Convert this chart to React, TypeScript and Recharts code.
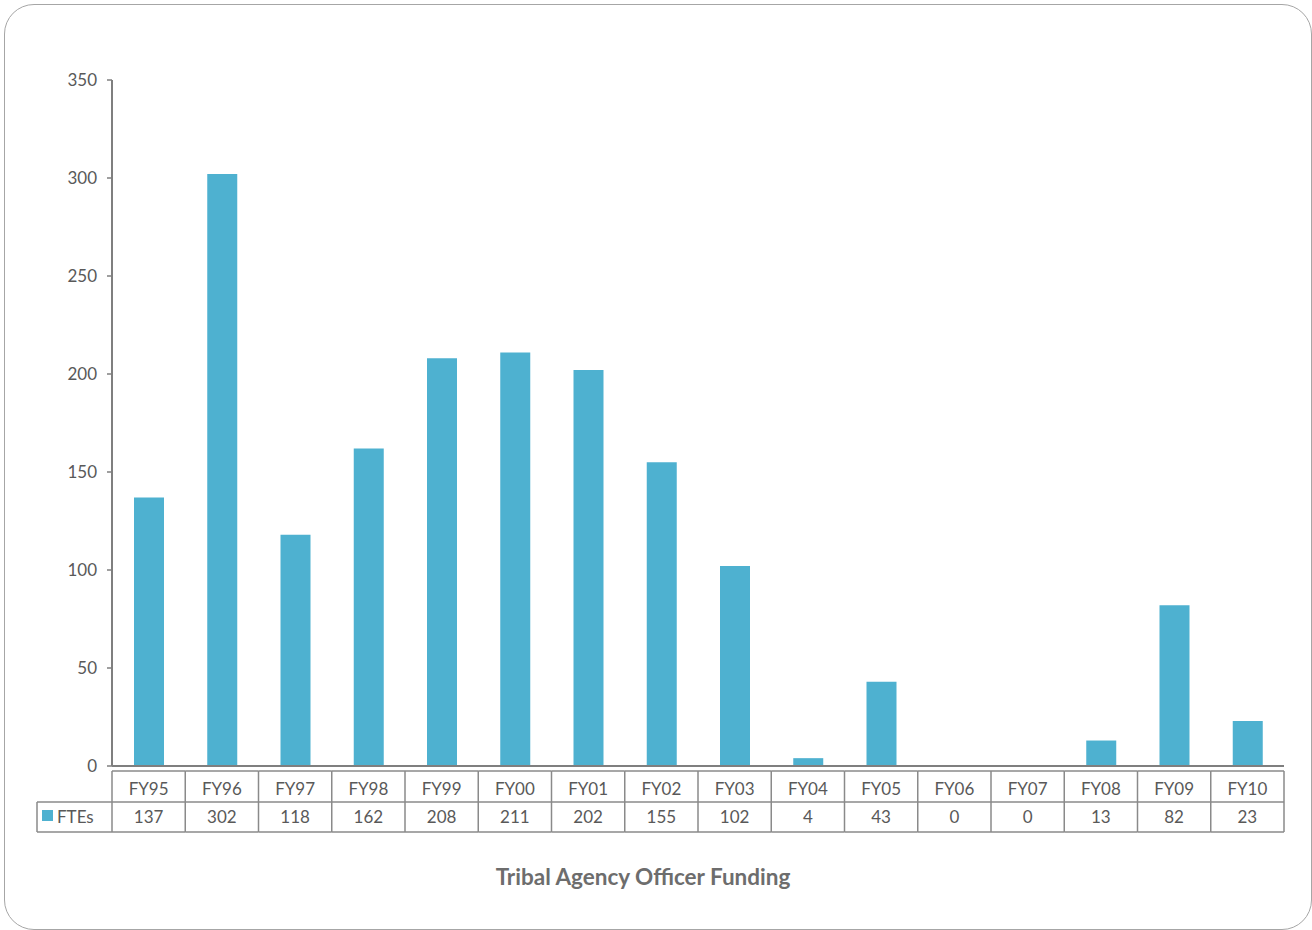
import React from "react";
import { BarChart, Bar, XAxis, YAxis } from "recharts";

const categories = ["FY95", "FY96", "FY97", "FY98", "FY99", "FY00", "FY01", "FY02", "FY03", "FY04", "FY05", "FY06", "FY07", "FY08", "FY09", "FY10"];
const ftes = [137, 302, 118, 162, 208, 211, 202, 155, 102, 4, 43, 0, 0, 13, 82, 23];
const yTicks = [0, 50, 100, 150, 200, 250, 300, 350];
const seriesName = "FTEs";
const title = "Tribal Agency Officer Funding";

const data = categories.map((c, i) => ({ name: c, value: ftes[i] }));

const W = 1312;
const H = 930;
const M = { top: 80, right: 28, left: 0, bottom: 0 };
const Y_AXIS_W = 112;
const X_AXIS_H = 164;
const PLOT_W = W - M.left - M.right - Y_AXIS_W;
const BAND = PLOT_W / categories.length;
const BAR_COLOR = "#4EB1D0";
const TEXT = "#595959";
const LINE = "#8a8a8a";
const FONT = "Lato, 'Open Sans', sans-serif";

const TableTick = (props: any) => {
  const { x, y, payload, index } = props;
  const left = x - BAND / 2;
  const r1 = y + 5;
  const r2 = y + 36;
  const r3 = y + 66;
  return (
    <g>
      <line x1={left} y1={r1} x2={left + BAND} y2={r1} stroke={LINE} strokeWidth={1.5} />
      <line x1={left} y1={r2} x2={left + BAND} y2={r2} stroke={LINE} strokeWidth={1.5} />
      <line x1={left} y1={r3} x2={left + BAND} y2={r3} stroke={LINE} strokeWidth={1.5} />
      <line x1={left} y1={r1} x2={left} y2={r3} stroke={LINE} strokeWidth={1.5} />
      {index === categories.length - 1 && (
        <line x1={left + BAND} y1={r1} x2={left + BAND} y2={r3} stroke={LINE} strokeWidth={1.5} />
      )}
      {index === 0 && (
        <g>
          <line x1={37} y1={r2} x2={left} y2={r2} stroke={LINE} strokeWidth={1.5} />
          <line x1={37} y1={r3} x2={left} y2={r3} stroke={LINE} strokeWidth={1.5} />
          <line x1={37} y1={r2} x2={37} y2={r3} stroke={LINE} strokeWidth={1.5} />
          <rect x={42} y={r2 + 8} width={11} height={11} fill={BAR_COLOR} />
          <text x={57} y={r2 + 14} dominantBaseline="central" fontSize={17} fill={TEXT} fontFamily={FONT}>
            {seriesName}
          </text>
        </g>
      )}
      <text x={x} y={r1 + 17} textAnchor="middle" dominantBaseline="central" fontSize={17} fill={TEXT} fontFamily={FONT}>
        {payload.value}
      </text>
      <text x={x} y={r2 + 14} textAnchor="middle" dominantBaseline="central" fontSize={17} fill={TEXT} fontFamily={FONT}>
        {ftes[index]}
      </text>
    </g>
  );
};

export default function App() {
  return (
    <div style={{ position: "absolute", left: 0, top: 0, width: W, height: H, background: "#fff", overflow: "hidden" }}>
      <div
        style={{
          position: "absolute",
          left: 4,
          top: 4,
          width: 1308,
          height: 926,
          border: "1.5px solid #a6a6a6",
          borderRadius: 30,
          boxSizing: "border-box",
        }}
      />
      <div style={{ position: "absolute", left: 0, top: 0 }}>
        <BarChart width={W} height={H} data={data} margin={M} barCategoryGap={0} barSize={30}>
          <XAxis
            dataKey="name"
            height={X_AXIS_H}
            tickLine={false}
            tickSize={0}
            tickMargin={0}
            axisLine={{ stroke: "#7f7f7f", strokeWidth: 2 }}
            tick={<TableTick />}
            interval={0}
          />
          <YAxis
            width={Y_AXIS_W}
            domain={[0, 350]}
            ticks={yTicks}
            interval={0}
            tickSize={5}
            tickMargin={10}
            tickLine={{ stroke: "#7f7f7f", strokeWidth: 1.5 }}
            axisLine={{ stroke: "#7f7f7f", strokeWidth: 2 }}
            tick={{ fontSize: 17, fill: TEXT, fontFamily: FONT }}
          />
          <Bar dataKey="value" fill={BAR_COLOR} isAnimationActive={false} />
        </BarChart>
      </div>
      <div
        style={{
          position: "absolute",
          left: 0,
          width: W - 26,
          top: 863,
          textAlign: "center",
          fontFamily: FONT,
          fontWeight: 700,
          fontSize: 22.5,
          color: "#6d6d6d",
        }}
      >
        {title}
      </div>
    </div>
  );
}
